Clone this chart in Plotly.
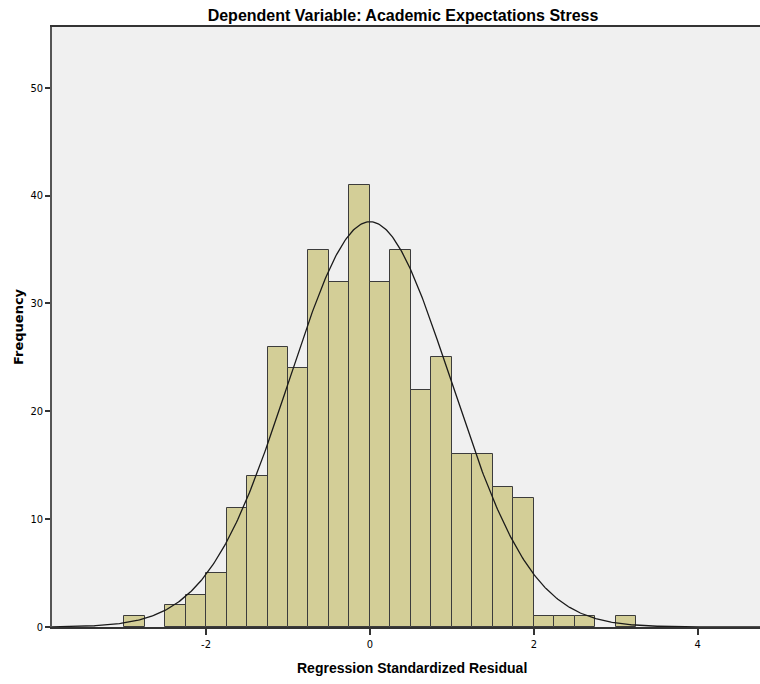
import numpy as np
import plotly.graph_objects as go

# ---- data ----
bin_width = 0.25
bin_starts = [-3.0, -2.5, -2.25, -2.0, -1.75, -1.5, -1.25, -1.0, -0.75, -0.5, -0.25,
              0.0, 0.25, 0.5, 0.75, 1.0, 1.25, 1.5, 1.75, 2.0, 2.25, 2.5, 3.0]
counts = [1, 2, 3, 5, 11, 14, 26, 24, 35, 32, 41,
          32, 35, 22, 25, 16, 16, 13, 12, 1, 1, 1, 1]
resid_mean = 0.0
resid_sd = 0.99
n_cases = 373

x_ticks = [-2, 0, 2, 4]
y_ticks = [0, 10, 20, 30, 40, 50]
x_range = [-3.88, 4.76]
y_range = [0, 55.63]

title_text = "Dependent Variable: Academic Expectations Stress"
x_title = "Regression Standardized Residual"
y_title = "Frequency"

FONT = "Liberation Sans Narrow, Arial Narrow, DejaVu Sans Condensed, Liberation Sans, sans-serif"
BOLD = "Liberation Sans, Arial, sans-serif"

centers = [s + bin_width / 2 for s in bin_starts]

# normal curve scaled to the histogram
xs = np.linspace(x_range[0], x_range[1], 600)
ys = n_cases * bin_width / (resid_sd * np.sqrt(2 * np.pi)) * np.exp(-0.5 * ((xs - resid_mean) / resid_sd) ** 2)

fig = go.Figure()
fig.add_trace(go.Bar(
    x=centers, y=counts, width=bin_width,
    marker=dict(color="#D3CE97", line=dict(color="#3C3C3C", width=1)),
    hoverinfo="x+y", showlegend=False,
))
fig.add_trace(go.Scatter(
    x=xs, y=ys, mode="lines",
    line=dict(color="#1A1A1A", width=1.3),
    hoverinfo="skip", showlegend=False,
))

W, H = 760, 684
fig.update_layout(
    width=W, height=H,
    margin=dict(l=52, r=0, t=27, b=57),
    paper_bgcolor="white",
    plot_bgcolor="#F0F0F0",
    bargap=0,
    title=dict(text="<b>" + title_text + "</b>", x=403 / W, xanchor="center",
               y=1 - 15.5 / H, yanchor="middle", yref="container",
               font=dict(family=BOLD, size=16, color="#000000")),
    font=dict(family=FONT, size=11, color="#000000"),
    xaxis=dict(range=x_range, tickvals=x_ticks, ticktext=[str(v) for v in x_ticks],
               showgrid=False, zeroline=False, showline=True, linecolor="#333333",
               linewidth=1.5, mirror=True, ticks="outside", ticklen=6, tickwidth=1.5,
               tickcolor="#333333", tickfont=dict(family=FONT, size=11, color="#000000")),
    yaxis=dict(range=y_range, tickvals=y_ticks, ticktext=[str(v) for v in y_ticks],
               showgrid=False, zeroline=False, showline=True, linecolor="#555555",
               linewidth=1.5, ticks="outside", ticklen=5, tickwidth=1.5,
               tickcolor="#333333", tickfont=dict(family=FONT, size=11, color="#000000")),
    annotations=[
        dict(text="<b>" + x_title + "</b>", x=(411.5 - 52) / 708, xref="paper", xanchor="center",
             y=0, yref="paper", yanchor="middle", yshift=-41, showarrow=False,
             font=dict(family=BOLD, size=14, color="#000000")),
        dict(text="<b>" + y_title + "</b>", x=0, xref="paper", xanchor="center", xshift=-34,
             y=0.5, yref="paper", yanchor="middle", textangle=-90, showarrow=False,
             font=dict(family="DejaVu Sans, sans-serif", size=13, color="#000000")),
    ],
)

fig.write_html(
    "out.html",
    config={"displayModeBar": False},
    post_script="document.body.style.margin='0';document.documentElement.style.overflow='hidden';",
)
